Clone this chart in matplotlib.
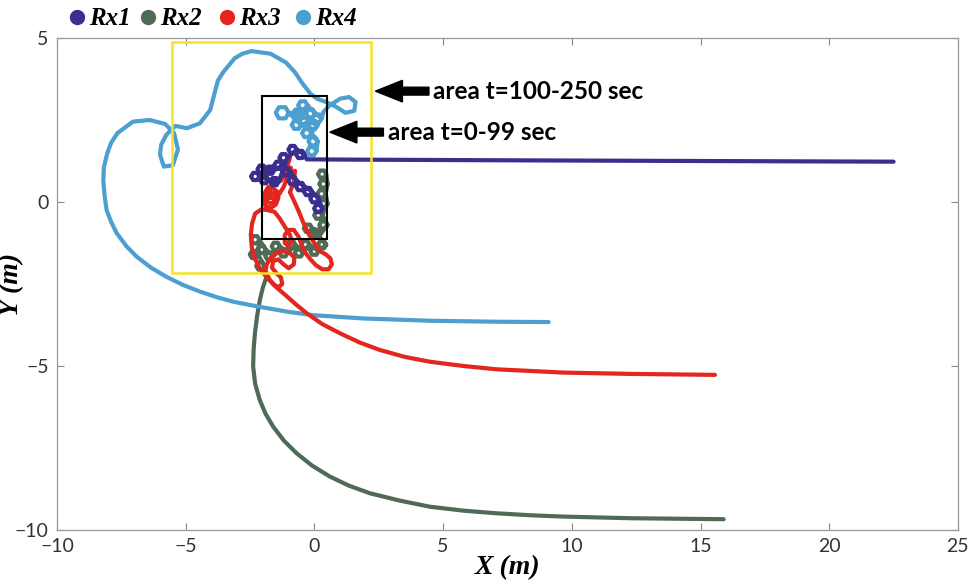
import numpy as np
import matplotlib
matplotlib.use("Agg")
import matplotlib.pyplot as plt
from matplotlib.patches import Rectangle, FancyArrow
from matplotlib.lines import Line2D

# Receiver trajectories (x, y in metres)
rx1_xy = [(0.31, -0.2), (0.23, -0.09), (0.07, -0.09), (-0.01, -0.2), (0.07, -0.31), (0.23, -0.31), (0.31, -0.2),
          (0.16, 0.1), (0.08, 0.21), (-0.08, 0.21), (-0.16, 0.1), (-0.08, -0.01), (0.08, -0.01), (0.16, 0.1),
          (-0.09, 0.32), (-0.17, 0.43), (-0.33, 0.43), (-0.41, 0.32), (-0.33, 0.21), (-0.17, 0.21), (-0.09, 0.32),
          (-0.39, 0.47), (-0.47, 0.58), (-0.63, 0.58), (-0.71, 0.47), (-0.63, 0.36), (-0.47, 0.36), (-0.39, 0.47),
          (-0.69, 0.65), (-0.77, 0.76), (-0.93, 0.76), (-1.01, 0.65), (-0.93, 0.54), (-0.77, 0.54), (-0.69, 0.65),
          (-0.94, 0.92), (-1.02, 1.03), (-1.18, 1.03), (-1.26, 0.92), (-1.18, 0.81), (-1.02, 0.81), (-0.94, 0.92),
          (-1.24, 1.12), (-1.32, 1.23), (-1.48, 1.23), (-1.56, 1.12), (-1.48, 1.01), (-1.32, 1.01), (-1.24, 1.12),
          (-1.56, 0.97), (-1.64, 1.08), (-1.8, 1.08), (-1.88, 0.97), (-1.8, 0.86), (-1.64, 0.86), (-1.56, 0.97),
          (-1.89, 1.0), (-1.97, 1.11), (-2.13, 1.11), (-2.21, 1.0), (-2.13, 0.89), (-1.97, 0.89), (-1.89, 1.0),
          (-2.14, 0.78), (-2.22, 0.89), (-2.38, 0.89), (-2.46, 0.78), (-2.38, 0.67), (-2.22, 0.67), (-2.14, 0.78),
          (-1.79, 0.68), (-1.87, 0.79), (-2.03, 0.79), (-2.11, 0.68), (-2.03, 0.57), (-1.87, 0.57), (-1.79, 0.68),
          (-1.39, 0.62), (-1.47, 0.73), (-1.63, 0.73), (-1.71, 0.62), (-1.63, 0.51), (-1.47, 0.51), (-1.39, 0.62),
          (-1.04, 1.35), (-1.12, 1.46), (-1.28, 1.46), (-1.36, 1.35), (-1.28, 1.24), (-1.12, 1.24), (-1.04, 1.35),
          (-0.69, 1.6), (-0.77, 1.71), (-0.93, 1.71), (-1.01, 1.6), (-0.93, 1.49), (-0.77, 1.49), (-0.69, 1.6),
          (-0.39, 1.45), (-0.47, 1.56), (-0.63, 1.56), (-0.71, 1.45), (-0.63, 1.34), (-0.47, 1.34), (-0.39, 1.45),
          (-0.3, 1.3), (2.0, 1.29), (8.0, 1.27), (15.0, 1.25), (22.5, 1.23)]

rx2_xy = [(0.46, 0.85), (0.38, 0.96), (0.22, 0.96), (0.14, 0.85), (0.22, 0.74), (0.38, 0.74), (0.46, 0.85),
          (0.51, 0.55), (0.43, 0.66), (0.27, 0.66), (0.19, 0.55), (0.27, 0.44), (0.43, 0.44), (0.51, 0.55),
          (0.44, 0.25), (0.36, 0.36), (0.2, 0.36), (0.12, 0.25), (0.2, 0.14), (0.36, 0.14), (0.44, 0.25),
          (0.51, -0.05), (0.43, 0.06), (0.27, 0.06), (0.19, -0.05), (0.27, -0.16), (0.43, -0.16), (0.51, -0.05),
          (0.31, -0.4), (0.23, -0.29), (0.07, -0.29), (-0.01, -0.4), (0.07, -0.51), (0.23, -0.51), (0.31, -0.4),
          (0.51, -0.7), (0.43, -0.59), (0.27, -0.59), (0.19, -0.7), (0.27, -0.81), (0.43, -0.81), (0.51, -0.7),
          (0.26, -0.95), (0.18, -0.84), (0.02, -0.84), (-0.06, -0.95), (0.02, -1.06), (0.18, -1.06), (0.26, -0.95),
          (-0.09, -0.8), (-0.17, -0.69), (-0.33, -0.69), (-0.41, -0.8), (-0.33, -0.91), (-0.17, -0.91), (-0.09, -0.8),
          (0.46, -1.3), (0.38, -1.19), (0.22, -1.19), (0.14, -1.3), (0.22, -1.41), (0.38, -1.41), (0.46, -1.3),
          (0.16, -1.5), (0.08, -1.39), (-0.08, -1.39), (-0.16, -1.5), (-0.08, -1.61), (0.08, -1.61), (0.16, -1.5),
          (-0.19, -1.3), (-0.27, -1.19), (-0.43, -1.19), (-0.51, -1.3), (-0.43, -1.41), (-0.27, -1.41), (-0.19, -1.3),
          (-0.44, -1.55), (-0.52, -1.44), (-0.68, -1.44), (-0.76, -1.55), (-0.68, -1.66), (-0.52, -1.66), (-0.44, -1.55),
          (-0.74, -1.3), (-0.82, -1.19), (-0.98, -1.19), (-1.06, -1.3), (-0.98, -1.41), (-0.82, -1.41), (-0.74, -1.3),
          (-1.04, -1.55), (-1.12, -1.44), (-1.28, -1.44), (-1.36, -1.55), (-1.28, -1.66), (-1.12, -1.66), (-1.04, -1.55),
          (-1.34, -1.35), (-1.42, -1.24), (-1.58, -1.24), (-1.66, -1.35), (-1.58, -1.46), (-1.42, -1.46), (-1.34, -1.35),
          (-1.59, -1.65), (-1.67, -1.54), (-1.83, -1.54), (-1.91, -1.65), (-1.83, -1.76), (-1.67, -1.76), (-1.59, -1.65),
          (-1.89, -1.45), (-1.97, -1.34), (-2.13, -1.34), (-2.21, -1.45), (-2.13, -1.56), (-1.97, -1.56), (-1.89, -1.45),
          (-2.14, -1.15), (-2.22, -1.04), (-2.38, -1.04), (-2.46, -1.15), (-2.38, -1.26), (-2.22, -1.26), (-2.14, -1.15),
          (-2.19, -1.6), (-2.27, -1.49), (-2.43, -1.49), (-2.51, -1.6), (-2.43, -1.71), (-2.27, -1.71), (-2.19, -1.6),
          (-1.94, -1.95), (-2.02, -1.84), (-2.18, -1.84), (-2.26, -1.95), (-2.18, -2.06), (-2.02, -2.06), (-1.94, -1.95),
          (-1.86, -2.28), (-2.0, -2.6), (-2.12, -2.99), (-2.23, -3.5), (-2.31, -4.0), (-2.36, -4.5), (-2.38, -5.02),
          (-2.3, -5.55), (-2.12, -6.04), (-1.9, -6.45), (-1.6, -6.85), (-1.18, -7.28), (-0.69, -7.66), (-0.1, -8.03),
          (0.6, -8.37), (1.35, -8.65), (2.16, -8.88), (3.3, -9.1), (4.49, -9.29), (5.8, -9.41), (7.08, -9.49),
          (8.4, -9.55), (9.67, -9.59), (12.26, -9.64), (15.9, -9.67)]

rx3_xy = [(-0.95, 1.35), (-1.05, 1.1), (-1.15, 0.85), (-1.3, 0.65), (-1.55, 0.55), (-1.8, 0.45), (-1.95, 0.25),
          (-2.0, 0.05), (-1.9, -0.12), (-1.7, -0.18), (-1.5, -0.08), (-1.4, 0.12), (-1.45, 0.32), (-1.62, 0.42),
          (-1.82, 0.36), (-1.9, 0.16), (-1.82, 0.0), (-1.65, -0.05), (-1.52, 0.08), (-1.55, 0.25), (-1.7, 0.28),
          (-1.75, 0.13), (-1.6, 0.12), (-1.4, 0.2), (-1.2, 0.45), (-1.05, 0.75), (-0.92, 1.05), (-0.85, 0.85),
          (-0.75, 0.95), (-0.8, 0.6), (-0.95, 0.3), (-0.8, 0.05), (-0.6, -0.3), (-0.42, -0.65), (-0.22, -0.98),
          (0.0, -1.25), (0.22, -1.5), (0.45, -1.6), (0.62, -1.72), (0.68, -1.9), (0.55, -2.05), (0.3, -2.05),
          (0.05, -1.92), (-0.15, -1.75), (-0.35, -1.55), (-0.5, -1.3), (-0.62, -1.05), (-0.8, -0.85), (-1.0, -0.85),
          (-1.15, -1.0), (-1.15, -1.25), (-1.0, -1.35), (-0.88, -1.2), (-0.95, -1.0), (-1.15, -0.75), (-1.35, -0.5),
          (-1.55, -0.3), (-1.8, -0.25), (-2.05, -0.22), (-2.3, -0.35), (-2.42, -0.65), (-2.47, -1.0), (-2.43, -1.4),
          (-2.3, -1.75), (-2.1, -2.05), (-1.85, -2.3), (-1.6, -2.5), (-1.4, -2.6), (-1.25, -2.5), (-1.3, -2.3),
          (-1.5, -2.15), (-1.65, -2.0), (-1.6, -1.8), (-1.4, -1.75), (-1.2, -1.9), (-1.0, -2.02), (-0.8, -1.9),
          (-0.78, -1.7), (-0.95, -1.55), (-1.2, -1.5), (-1.45, -1.55), (-1.7, -1.7), (-1.85, -1.9), (-1.9, -2.1),
          (-1.75, -2.35), (-1.55, -2.55), (-1.21, -2.78), (-0.75, -3.1), (-0.3, -3.39), (0.3, -3.72), (0.99, -4.0),
          (1.75, -4.28), (2.54, -4.51), (3.5, -4.72), (4.49, -4.87), (5.8, -5.0), (7.08, -5.1), (9.67, -5.2),
          (12.26, -5.24), (15.56, -5.27)]

rx4_xy = [(0.08, 1.55), (-0.01, 1.67), (-0.19, 1.67), (-0.28, 1.55), (-0.19, 1.43), (-0.01, 1.43), (0.08, 1.55),
          (0.13, 1.85), (0.04, 1.97), (-0.14, 1.97), (-0.23, 1.85), (-0.14, 1.73), (0.04, 1.73), (0.13, 1.85),
          (-0.12, 2.1), (-0.21, 2.22), (-0.39, 2.22), (-0.48, 2.1), (-0.39, 1.98), (-0.21, 1.98), (-0.12, 2.1),
          (0.13, 2.35), (0.04, 2.47), (-0.14, 2.47), (-0.23, 2.35), (-0.14, 2.23), (0.04, 2.23), (0.13, 2.35),
          (-0.22, 2.45), (-0.31, 2.57), (-0.49, 2.57), (-0.58, 2.45), (-0.49, 2.33), (-0.31, 2.33), (-0.22, 2.45),
          (-0.52, 2.35), (-0.61, 2.47), (-0.79, 2.47), (-0.88, 2.35), (-0.79, 2.23), (-0.61, 2.23), (-0.52, 2.35),
          (-1.0, 2.72), (-1.12, 2.89), (-1.38, 2.89), (-1.5, 2.72), (-1.38, 2.55), (-1.12, 2.55), (-1.0, 2.72),
          (-0.47, 2.7), (-0.56, 2.82), (-0.74, 2.82), (-0.83, 2.7), (-0.74, 2.58), (-0.56, 2.58), (-0.47, 2.7),
          (-0.27, 2.95), (-0.36, 3.07), (-0.54, 3.07), (-0.63, 2.95), (-0.54, 2.83), (-0.36, 2.83), (-0.27, 2.95),
          (0.03, 2.7), (-0.06, 2.82), (-0.24, 2.82), (-0.33, 2.7), (-0.24, 2.58), (-0.06, 2.58), (0.03, 2.7),
          (0.28, 2.55), (0.19, 2.67), (0.01, 2.67), (-0.08, 2.55), (0.01, 2.43), (0.19, 2.43), (0.28, 2.55),
          (0.35, 2.75), (0.6, 2.95), (1.0, 3.15), (1.35, 3.2), (1.6, 3.05), (1.55, 2.78), (1.2, 2.72), (0.85, 2.9),
          (0.45, 3.05), (0.1, 3.15), (-0.15, 3.3), (-0.45, 3.6), (-0.75, 3.95), (-1.1, 4.25), (-1.7, 4.52),
          (-2.45, 4.6), (-2.8, 4.52), (-3.1, 4.38), (-3.55, 3.95), (-3.75, 3.7), (-3.85, 3.4), (-4.05, 2.8),
          (-4.45, 2.4), (-4.95, 2.25), (-5.4, 2.32), (-5.75, 2.05), (-5.95, 1.75), (-6.0, 1.45), (-5.85, 1.08),
          (-5.5, 1.12), (-5.3, 1.6), (-5.45, 2.1), (-5.8, 2.38), (-6.4, 2.5), (-7.05, 2.45), (-7.65, 2.1),
          (-7.9, 1.8), (-8.05, 1.48), (-8.18, 1.05), (-8.2, 0.65), (-8.15, 0.2), (-8.07, -0.25), (-7.9, -0.6),
          (-7.68, -0.95), (-7.3, -1.35), (-6.9, -1.67), (-6.35, -2.0), (-5.75, -2.28), (-5.1, -2.53),
          (-4.45, -2.73), (-3.8, -2.9), (-3.15, -3.04), (-2.1, -3.2), (-1.0, -3.35), (-0.05, -3.45),
          (1.9, -3.55), (4.5, -3.62), (7.1, -3.65), (9.1, -3.66)]

labels = ["Rx1", "Rx2", "Rx3", "Rx4"]
colors = ["#3b2e8e", "#4f6b58", "#e3261e", "#4c9fcf"]

# Highlighted areas (x0, y0, width, height)
area_late = (-5.55, -2.15, 7.75, 7.03)
area_early = (-2.05, -1.12, 2.55, 4.35)

fig = plt.figure(figsize=(9.74, 5.82), dpi=100)
ax = fig.add_axes([0.0585, 0.0893, 0.925, 0.8454])

paths = [rx1_xy, rx2_xy, rx3_xy, rx4_xy]
zorders = [5, 2, 4, 3]
for xy, c, z in zip(paths, colors, zorders):
    a = np.array(xy)
    ax.plot(a[:, 0], a[:, 1], color=c, lw=3.0, zorder=z,
            solid_joinstyle="round", solid_capstyle="round")

ax.add_patch(Rectangle(area_late[:2], area_late[2], area_late[3], fill=False,
                       edgecolor="#f4e425", lw=1.8, zorder=6))
ax.add_patch(Rectangle(area_early[:2], area_early[2], area_early[3], fill=False,
                       edgecolor="black", lw=1.5, zorder=6))

# Arrows pointing at the boxes
ax.add_patch(FancyArrow(4.45, 3.38, -2.08, 0, width=0.24, head_width=0.66,
                        head_length=1.05, length_includes_head=True, color="black", zorder=7))
ax.add_patch(FancyArrow(2.68, 2.13, -2.08, 0, width=0.24, head_width=0.66,
                        head_length=1.05, length_includes_head=True, color="black", zorder=7))
ax.text(4.6, 3.38, "area t=100-250 sec", fontsize=17.5, fontweight="bold",
        family="Lato", va="center", ha="left")
ax.text(2.85, 2.13, "area t=0-99 sec", fontsize=17.5, fontweight="bold",
        family="Lato", va="center", ha="left")

ax.set_xlim(-10, 25)
ax.set_ylim(-10, 5)
ax.set_xticks([-10, -5, 0, 5, 10, 15, 20, 25])
ax.set_yticks([-10, -5, 0, 5])
ax.tick_params(direction="in", length=5, width=0.8, color="#888888",
               top=True, right=True, labelsize=14, labelcolor="#333333", pad=6)
for lab in ax.get_xticklabels() + ax.get_yticklabels():
    lab.set_family("Lato")
for s in ax.spines.values():
    s.set_color("#9a9a9a")
    s.set_linewidth(0.9)

ax.set_xlabel("X (m)", family="Liberation Serif", fontsize=20, fontweight="bold",
              style="italic", labelpad=0)
ax.set_ylabel("Y (m)", family="Liberation Serif", fontsize=20, fontweight="bold",
              style="italic")
ax.yaxis.set_label_coords(-0.037, 0.5)

# Legend along the top
mark_x = [0.079, 0.152, 0.233, 0.311]
for lab, c, mx in zip(labels, colors, mark_x):
    fig.add_artist(Line2D([mx], [0.97], marker="o", markersize=10, color=c,
                          linestyle="", transform=fig.transFigure))
    fig.text(mx + 0.0125, 0.968, lab, family="Liberation Serif", fontsize=18,
             fontweight="bold", style="italic", va="center", ha="left")

fig.savefig("out.png", dpi=100, facecolor="white")
